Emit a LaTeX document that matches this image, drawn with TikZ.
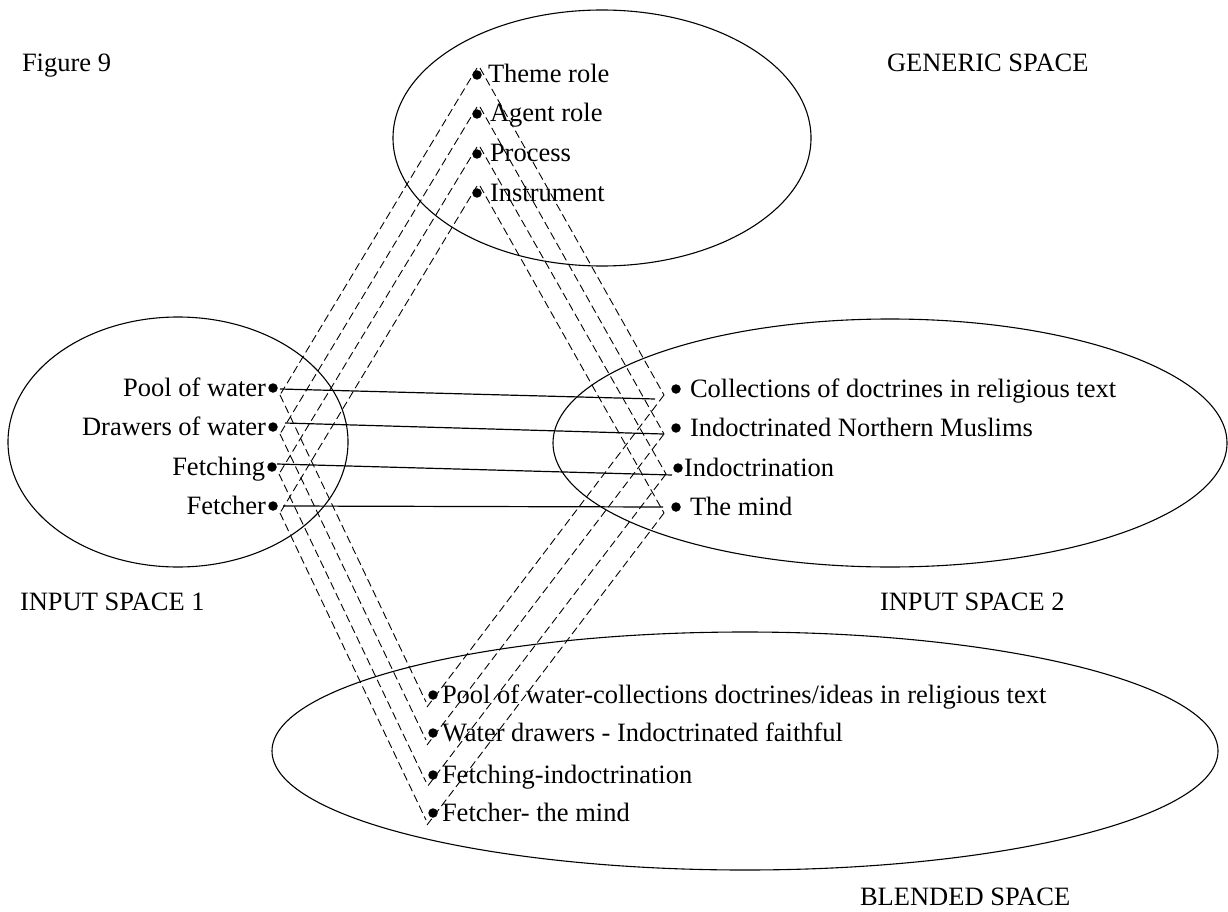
\documentclass[tikz,border=0pt]{standalone}
\usepackage{fontspec}
\setmainfont{Liberation Serif}
\begin{document}
\begin{tikzpicture}[x=1pt,y=-1pt,
  every node/.style={font=\fontsize{26.5}{30}\selectfont, inner sep=0pt, outer sep=0pt},
  dot/.style={circle, fill=black, minimum size=9.5pt, inner sep=0pt},
  space/.style={draw=black, line width=1.1pt},
  link/.style={draw=black, line width=0.9pt, dash pattern=on 8pt off 4pt},
  map/.style={draw=black, line width=1.2pt},
  lbl/.style={anchor=base west},
  lblr/.style={anchor=base east}]
\useasboundingbox[fill=white] (0,0) rectangle (1228,912);

% the four mental spaces
\draw[space] (602,138) ellipse [x radius=209pt, y radius=128pt];
\draw[space] (178,442) ellipse [x radius=170pt, y radius=125pt];
\draw[space] (890,443) ellipse [x radius=337pt, y radius=124pt];
\draw[space] (745,751) ellipse [x radius=473pt, y radius=119pt];

% captions
\node[lbl] (fig) at (22,72) {Figure 9};
\node[lbl] (gs) at (887,72) {GENERIC SPACE};
\node[lbl] (is1) at (20,610) {INPUT SPACE 1};
\node[lbl] (is2) at (880,610) {INPUT SPACE 2};
\node[lbl] (bs) at (860,905) {BLENDED SPACE};

% generic space
\node[dot] (g1) at (477,75) {};
\node[dot] (g2) at (477,114) {};
\node[dot] (g3) at (477,154) {};
\node[dot] (g4) at (477,193) {};
\node[lbl] (g1t) at (488,83) {Theme role};
\node[lbl] (g2t) at (490,122) {Agent role};
\node[lbl] (g3t) at (490,162) {Process};
\node[lbl] (g4t) at (490,201) {Instrument};

% input space 1
\node[dot] (a1) at (273,388) {};
\node[dot] (a2) at (273,427) {};
\node[dot] (a3) at (272,467) {};
\node[dot] (a4) at (273,506) {};
\node[lblr] (a1t) at (266,396) {Pool of water};
\node[lblr] (a2t) at (266,435) {Drawers of water};
\node[lblr] (a3t) at (265,475) {Fetching};
\node[lblr] (a4t) at (266,514) {Fetcher};

% input space 2
\node[dot] (b1) at (676,389) {};
\node[dot] (b2) at (676,428) {};
\node[dot] (b3) at (678,468) {};
\node[dot] (b4) at (676,507) {};
\node[lbl] (b1t) at (690,397) {Collections of doctrines in religious text};
\node[lbl] (b2t) at (690,436) {Indoctrinated Northern Muslims};
\node[lbl] (b3t) at (684,476) {Indoctrination};
\node[lbl] (b4t) at (690,515) {The mind};

% blended space
\node[dot] (c1) at (433,695) {};
\node[dot] (c2) at (433,733) {};
\node[dot] (c3) at (433,775) {};
\node[dot] (c4) at (433,813) {};
\node[lbl] (c1t) at (442,703) {Pool of water-collections doctrines/ideas in religious text};
\node[lbl] (c2t) at (442,741) {Water drawers - Indoctrinated faithful};
\node[lbl] (c3t) at (442,783) {Fetching-indoctrination};
\node[lbl] (c4t) at (442,821) {Fetcher- the mind};

% cross-space mappings between the two inputs
\draw[map] ([shift={(7,1)}]a1.center) -- ([shift={(-21,10)}]b1.center);
\draw[map] ([shift={(12,-4)}]a2.center) -- ([shift={(-13,6)}]b2.center);
\draw[map] ([shift={(5,-3)}]a3.center) -- ([shift={(-6,7)}]b3.center);
\draw[map] ([shift={(10,0)}]a4.center) -- ([shift={(-13,0)}]b4.center);

% projections from the generic space
\foreach \g/\a in {g1/a1,g2/a2,g3/a3,g4/a4}
  \draw[link] ([shift={(0,-7)}]\g.center) -- ([shift={(7,7)}]\a.center);
\foreach \g/\b in {g1/b1,g2/b2,g3/b3,g4/b4}
  \draw[link] ([shift={(3,-7)}]\g.center) -- ([shift={(-12,6)}]\b.center);

% projections into the blend
\foreach \a/\c in {a1/c1,a2/c2,a3/c3,a4/c4}
  \draw[link] ([shift={(7,7)}]\a.center) -- ([shift={(-7,7)}]\c.center);
\foreach \b/\c in {b1/c1,b2/c2,b3/c3,b4/c4}
  \draw[link] ([shift={(-12,6)}]\b.center) -- ([shift={(-6,12)}]\c.center);
\end{tikzpicture}
\end{document}
